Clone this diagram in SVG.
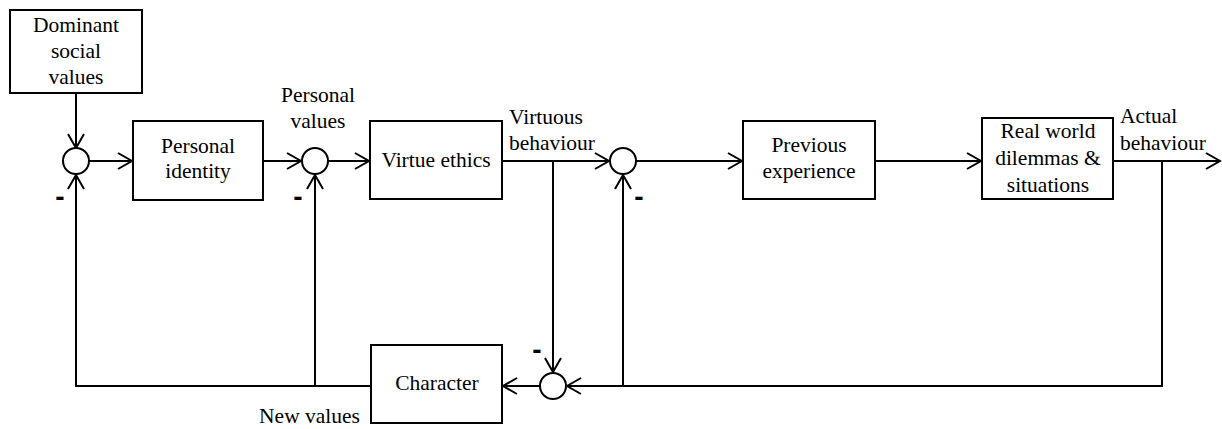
<svg xmlns="http://www.w3.org/2000/svg" width="1222" height="429" viewBox="0 0 1222 429">
<style>
.box{fill:#fff;stroke:#000;stroke-width:2}
.sum{fill:#fff;stroke:#000;stroke-width:2}
.ln{fill:none;stroke:#000;stroke-width:2;marker-end:url(#ah)}
</style>
<defs>
<marker id="ah" markerUnits="userSpaceOnUse" markerWidth="20" markerHeight="20" viewBox="-16 -10 18 20" refX="0" refY="0" orient="auto">
<path d="M-14,-8 L0,0 L-14,8" fill="none" stroke="#000" stroke-width="2"/>
</marker>
</defs>
<rect width="1222" height="429" fill="#fff"/>
<g id="connectors">
<path class="ln" d="M76,93 V148"/>
<path class="ln" d="M89,161 H132"/>
<path class="ln" d="M263,161 H301"/>
<path class="ln" d="M328,161 H369"/>
<path class="ln" d="M502,161 H609"/>
<path class="ln" d="M636,161 H742"/>
<path class="ln" d="M875,161 H981"/>
<path class="ln" d="M1113,161 H1220"/>
<path class="ln" d="M1162,161 V386 H567"/>
<path class="ln" d="M553,161 V372"/>
<path class="ln" d="M540,386 H503"/>
<path class="ln" d="M371,386 H76 V175"/>
<path class="ln" d="M315,386 V175"/>
<path class="ln" d="M623,386 V175"/>
</g>
<g id="dominant"><rect class="box" x="10" y="10" width="132" height="83"/>
<text x="76" y="32" style="font-family:'Liberation Serif',serif;font-size:21.5px;text-anchor:middle">Dominant</text>
<text x="76" y="58" style="font-family:'Liberation Serif',serif;font-size:21.5px;text-anchor:middle">social</text>
<text x="76" y="84" style="font-family:'Liberation Serif',serif;font-size:21.5px;text-anchor:middle">values</text></g>
<g id="sum1"><circle class="sum" cx="76" cy="161" r="13"/>
<text x="60" y="206" style="font-family:'Liberation Sans',sans-serif;font-size:28px;font-weight:bold;text-anchor:middle">-</text></g>
<g id="identity"><rect class="box" x="133" y="121" width="130" height="79"/>
<text x="198" y="153" style="font-family:'Liberation Serif',serif;font-size:21.5px;text-anchor:middle">Personal</text>
<text x="198" y="178" style="font-family:'Liberation Serif',serif;font-size:21.5px;text-anchor:middle">identity</text></g>
<g id="sum2"><circle class="sum" cx="315" cy="161" r="13"/>
<text x="298" y="206" style="font-family:'Liberation Sans',sans-serif;font-size:28px;font-weight:bold;text-anchor:middle">-</text>
<text x="318" y="102" style="font-family:'Liberation Serif',serif;font-size:21.5px;text-anchor:middle">Personal</text>
<text x="318" y="128" style="font-family:'Liberation Serif',serif;font-size:21.5px;text-anchor:middle">values</text></g>
<g id="virtue"><rect class="box" x="370" y="121" width="132" height="78"/>
<text x="436" y="167" style="font-family:'Liberation Serif',serif;font-size:21.5px;text-anchor:middle">Virtue ethics</text></g>
<g id="virtuous-label">
<text x="509" y="124" style="font-family:'Liberation Serif',serif;font-size:21.5px">Virtuous</text>
<text x="509" y="150" style="font-family:'Liberation Serif',serif;font-size:21.5px">behaviour</text></g>
<g id="sum3"><circle class="sum" cx="623" cy="161" r="13"/>
<text x="639" y="206" style="font-family:'Liberation Sans',sans-serif;font-size:28px;font-weight:bold;text-anchor:middle">-</text></g>
<g id="previous"><rect class="box" x="743" y="121" width="132" height="78"/>
<text x="809" y="152" style="font-family:'Liberation Serif',serif;font-size:21.5px;text-anchor:middle">Previous</text>
<text x="809" y="178" style="font-family:'Liberation Serif',serif;font-size:21.5px;text-anchor:middle">experience</text></g>
<g id="realworld"><rect class="box" x="982" y="118" width="131" height="81"/>
<text x="1048" y="138" style="font-family:'Liberation Serif',serif;font-size:21.5px;text-anchor:middle">Real world</text>
<text x="1048" y="165" style="font-family:'Liberation Serif',serif;font-size:21.5px;text-anchor:middle">dilemmas &amp;</text>
<text x="1048" y="192" style="font-family:'Liberation Serif',serif;font-size:21.5px;text-anchor:middle">situations</text></g>
<g id="actual-label">
<text x="1120" y="123" style="font-family:'Liberation Serif',serif;font-size:21.5px">Actual</text>
<text x="1120" y="150" style="font-family:'Liberation Serif',serif;font-size:21.5px">behaviour</text></g>
<g id="sum4"><circle class="sum" cx="553" cy="386" r="13"/>
<text x="537" y="359" style="font-family:'Liberation Sans',sans-serif;font-size:28px;font-weight:bold;text-anchor:middle">-</text></g>
<g id="character"><rect class="box" x="371" y="345" width="131" height="78"/>
<text x="437" y="390" style="font-family:'Liberation Serif',serif;font-size:21.5px;text-anchor:middle">Character</text></g>
<g id="newvalues-label">
<text x="360" y="423" style="font-family:'Liberation Serif',serif;font-size:21.5px;text-anchor:end">New values</text></g>
</svg>
